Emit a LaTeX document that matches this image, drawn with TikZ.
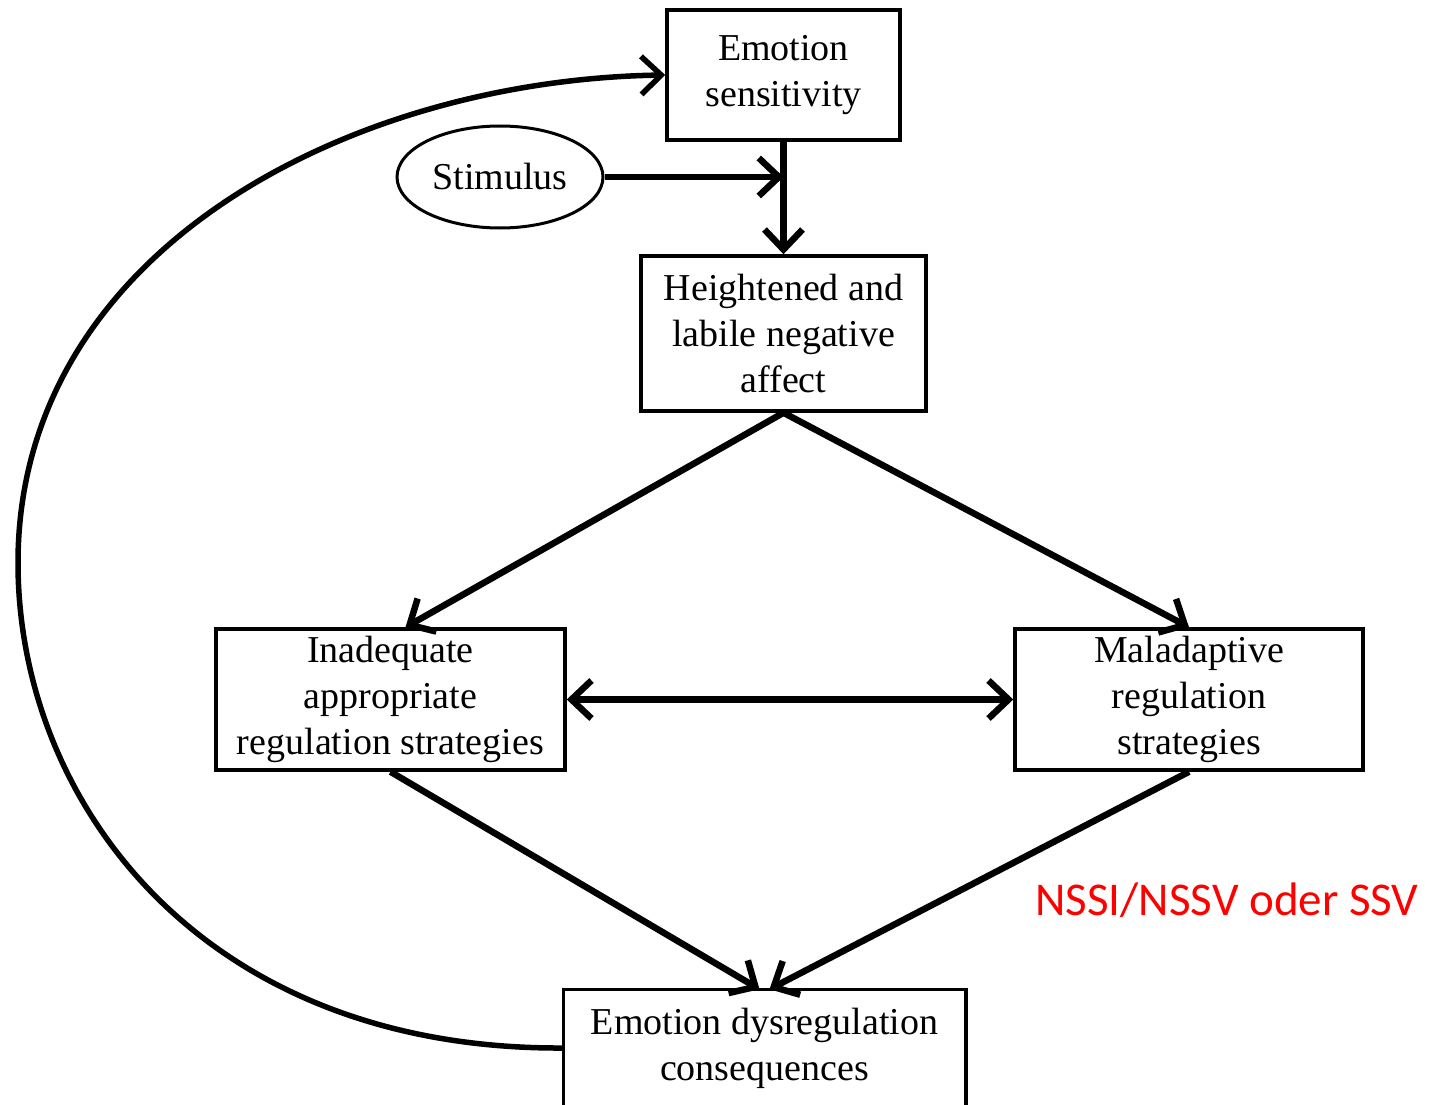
\documentclass[tikz,border=0pt]{standalone}
\usepackage{fontspec}
\setmainfont{Liberation Serif}
\newfontfamily\notefont{Carlito}
\usetikzlibrary{arrows.meta,shapes.geometric}

\begin{document}
\begin{tikzpicture}[
                x=1pt, y=-1pt,
                box/.style={draw, line width=3.5pt, align=center, inner sep=0pt,
                    font=\fontsize{38}{46}\selectfont},
                oval/.style={draw, ellipse, line width=3pt, inner sep=0pt,
                    font=\fontsize{38}{46}\selectfont},
                arr/.style={line width=6.5pt, -{Straight Barb[length=20pt,width=38pt]}},
                biarr/.style={line width=6.5pt, {Straight Barb[length=20pt,width=38pt]}-{Straight Barb[length=20pt,width=38pt]}},
                note/.style={text=red, font=\notefont\fontsize{47}{56}\selectfont}
            ]
            \useasboundingbox (0,0) rectangle (1430,1105);
            \node[box, minimum width=233, minimum height=130] (sens) at (783.5,75) {Emotion\\sensitivity};
            \node[oval, minimum width=206, minimum height=102] (stim) at (500,177) {Stimulus};
            \node[box, minimum width=285, minimum height=155] (heig) at (783.5,333.5) {Heightened and\\labile negative\\affect};
            \node[box, minimum width=349, minimum height=141] (inad) at (390.5,699.5) {Inadequate\\appropriate\\regulation strategies};
            \node[box, minimum width=348, minimum height=141] (mal) at (1189,699.5) {Maladaptive\\regulation\\strategies};
            \node[box, draw=none, minimum width=399, minimum height=114] (cons) at (764.5,1048) {Emotion dysregulation\\consequences};
            \node[note] (nssi) at (1227,900) {NSSI/NSSV oder SSV};
            \draw[line width=3.5pt] ([yshift=-30]cons.south west) -- (cons.north west) -- (cons.north east) -- ([yshift=-30]cons.south east);
            \draw[arr] (sens.south) -- (heig.north);
            \draw[arr] (stim.east) -- (stim.east -| sens.south);
            \draw[arr] (heig.south) -- ([xshift=15]inad.north);
            \draw[arr] (heig.south) -- (mal.north);
            \draw[biarr] (inad.east) -- (mal.west);
            \draw[arr] (inad.south) -- ([xshift=-5]cons.north);
            \draw[arr] (mal.south) -- ([xshift=5]cons.north);
            \draw[arr, line width=5.5pt] (cons.west) .. controls (200,1050) and (18,800) .. (18,563)
                .. controls (18,250) and (350,80) .. (sens.west);
        \end{tikzpicture}
\end{document}
